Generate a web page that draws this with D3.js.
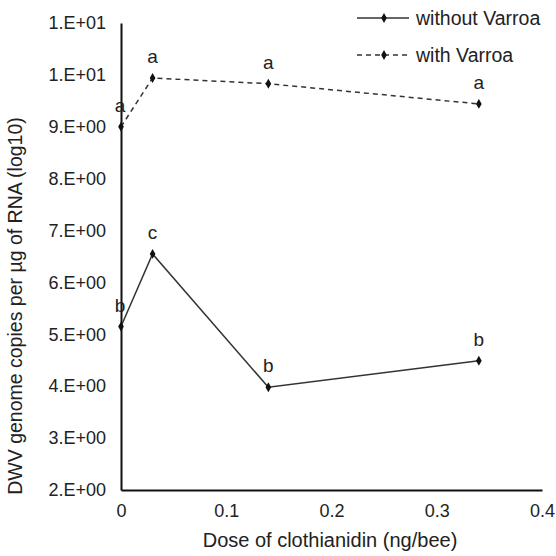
<!DOCTYPE html>
<html>
<head>
<meta charset="utf-8">
<script src="https://cdn.jsdelivr.net/npm/d3@7"></script>
<style>
  body { margin: 0; background: #fff; }
  text { font-family: "Liberation Sans", Arial, sans-serif; fill: #222; }
</style>
</head>
<body>
<div id="chart"></div>
<script>
'use strict';

var doses = [0, 0.03, 0.14, 0.34];
var withoutVarroa = [5.15, 6.55, 3.98, 4.49];
var withVarroa = [9.0, 9.94, 9.83, 9.44];
var withoutLetters = ['b', 'c', 'b', 'b'];
var withLetters = ['a', 'a', 'a', 'a'];
var yTicks = [2, 3, 4, 5, 6, 7, 8, 9, 10, 11];
var yTickLabels = ['2.E+00', '3.E+00', '4.E+00', '5.E+00', '6.E+00', '7.E+00', '8.E+00', '9.E+00', '1.E+01', '1.E+01'];
var xTicks = [0, 0.1, 0.2, 0.3, 0.4];
var seriesNames = ['without Varroa', 'with Varroa'];

var width = 556, height = 556;
var margin = { left: 121, right: 14, top: 23, bottom: 66 };
var font = '"Liberation Sans", Arial, sans-serif';

var svg = d3.select('#chart').append('svg')
  .attr('width', width)
  .attr('height', height);

var x = d3.scaleLinear().domain([0, 0.4]).range([margin.left, 542]);
var y = d3.scaleLinear().domain([2, 11]).range([height - margin.bottom, margin.top]);

// axes
var yAxis = d3.axisLeft(y).tickValues(yTicks)
  .tickFormat(function(d, i) { return yTickLabels[i]; })
  .tickSize(0).tickPadding(15);
var gy = svg.append('g').attr('transform', 'translate(' + x(0) + ',0)').call(yAxis);
gy.select('.domain').attr('stroke', '#111').attr('stroke-width', 2);
gy.selectAll('text').attr('font-size', 18).attr('font-family', font).attr('fill', '#222');

var xAxis = d3.axisBottom(x).tickValues(xTicks)
  .tickFormat(function(d) { return d === 0 ? '0' : d3.format('.1f')(d); })
  .tickSize(0).tickPadding(14);
var gx = svg.append('g').attr('transform', 'translate(0,' + y(2) + ')').call(xAxis);
gx.select('.domain').attr('stroke', '#111').attr('stroke-width', 2);
gx.selectAll('text').attr('font-size', 18).attr('font-family', font).attr('fill', '#222');

// axis titles
svg.append('text')
  .attr('x', 330)
  .attr('y', 547)
  .attr('text-anchor', 'middle')
  .attr('font-size', 20)
  .text('Dose of clothianidin (ng/bee)');

svg.append('text')
  .attr('transform', 'translate(22,306) rotate(-90)')
  .attr('text-anchor', 'middle')
  .attr('font-size', 19.5)
  .text('DWV genome  copies per \u00b5g of RNA (log10)');

// series
var line = d3.line()
  .x(function(d) { return x(d[0]); })
  .y(function(d) { return y(d[1]); });

var series = [
  { vals: withoutVarroa, letters: withoutLetters, dash: null },
  { vals: withVarroa, letters: withLetters, dash: '5,4' }
];

var diamond = d3.symbol().type(d3.symbolDiamond).size(28);

series.forEach(function(s) {
  var pts = doses.map(function(d, i) { return [d, s.vals[i]]; });
  svg.append('path')
    .attr('d', line(pts))
    .attr('fill', 'none')
    .attr('stroke', '#333')
    .attr('stroke-width', 1.5)
    .attr('stroke-dasharray', s.dash);
  svg.selectAll(null).data(pts).enter().append('path')
    .attr('d', diamond)
    .attr('transform', function(d) { return 'translate(' + x(d[0]) + ',' + y(d[1]) + ')'; })
    .attr('fill', '#111');
  svg.selectAll(null).data(pts).enter().append('text')
    .attr('x', function(d) { return x(d[0]) - (d[0] === 0 ? 1 : 0); })
    .attr('y', function(d) { return y(d[1]) - 15; })
    .attr('text-anchor', 'middle')
    .attr('font-size', 19)
    .text(function(d, i) { return s.letters[i]; });
});

// legend
var legend = svg.append('g');
seriesNames.forEach(function(name, i) {
  var ly = 18 + i * 37;
  legend.append('line')
    .attr('x1', 357).attr('x2', 409)
    .attr('y1', ly).attr('y2', ly)
    .attr('stroke', '#333').attr('stroke-width', 1.5)
    .attr('stroke-dasharray', i === 1 ? '5,4' : null);
  legend.append('path')
    .attr('d', diamond)
    .attr('transform', 'translate(384,' + ly + ')')
    .attr('fill', '#111');
  legend.append('text')
    .attr('x', 416).attr('y', ly + 7)
    .attr('font-size', 19.5)
    .text(name);
});
</script>
</body>
</html>
